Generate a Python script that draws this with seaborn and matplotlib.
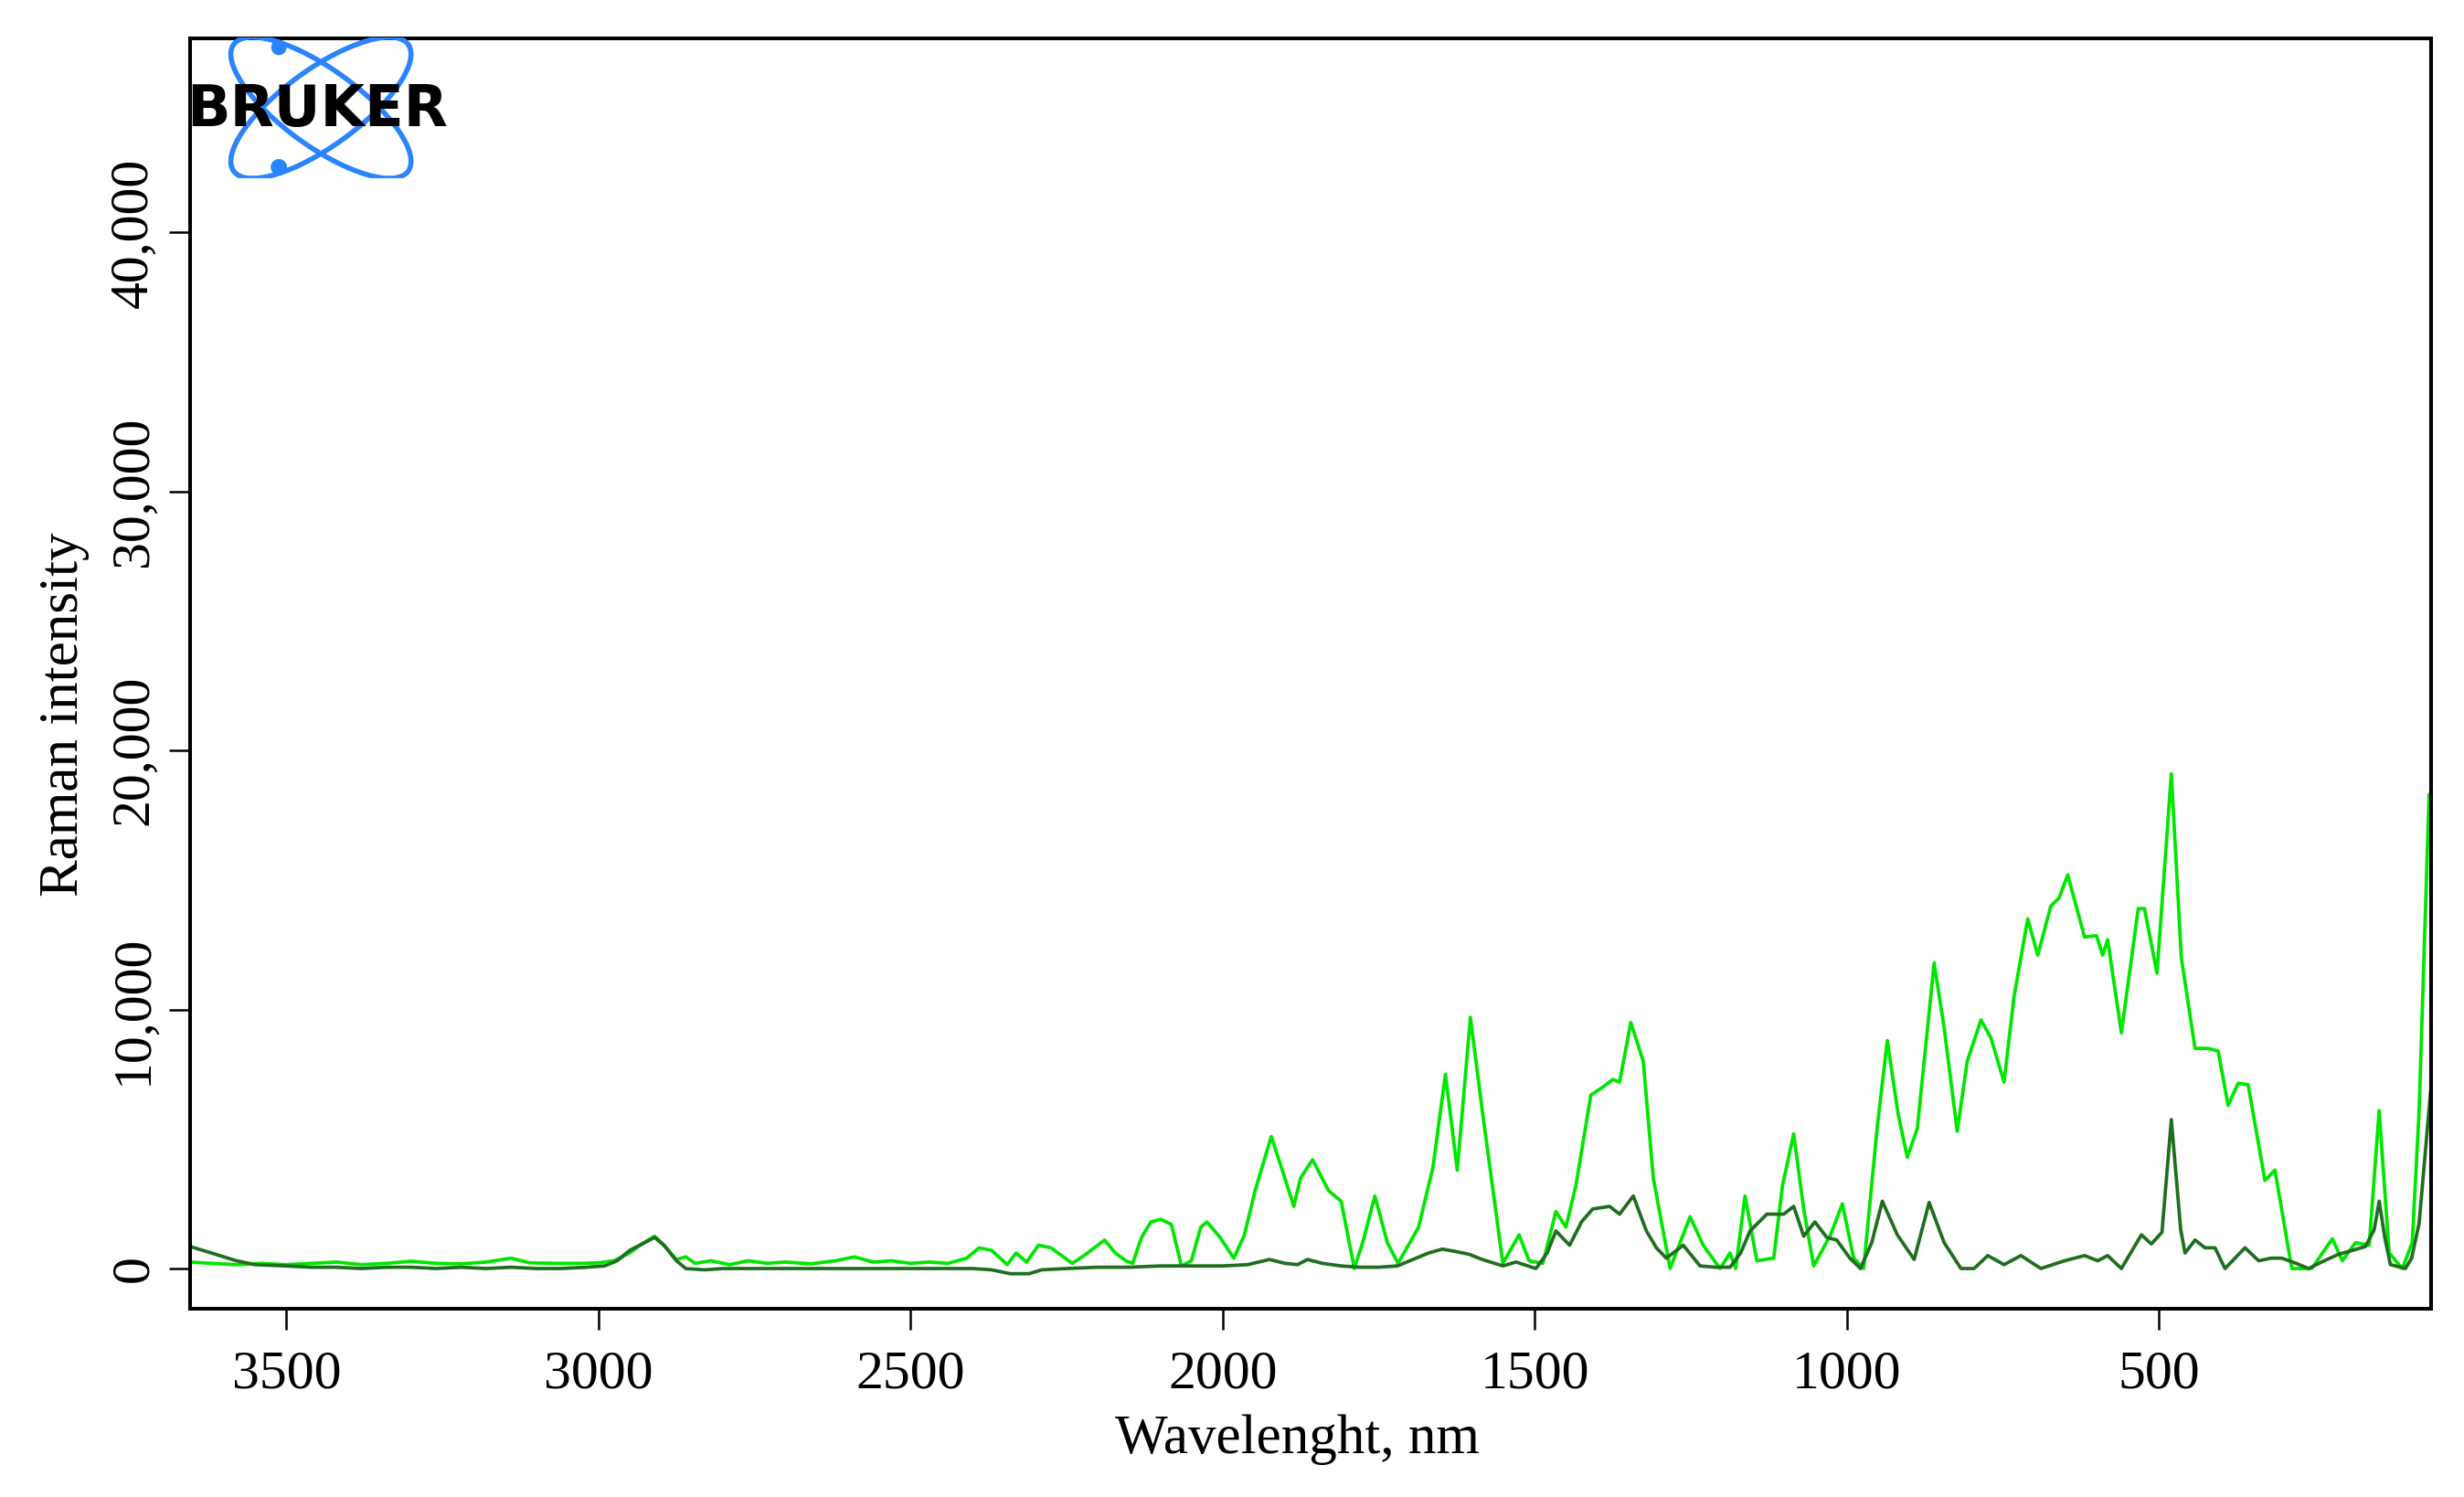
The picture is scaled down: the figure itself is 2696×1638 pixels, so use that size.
import numpy as np
import pandas as pd
import matplotlib
matplotlib.use("Agg")
import matplotlib.pyplot as plt
import seaborn as sns
from matplotlib.patches import Ellipse, Circle
from matplotlib.ticker import StrMethodFormatter

# ---- data (x in nm, intensity in thousands) ----
bright_x = [3654, 3620, 3580, 3540, 3500, 3460, 3420, 3380, 3340, 3300, 3260, 3220, 3180,
            3140, 3110, 3070, 3030, 3000, 2975, 2950, 2930, 2910, 2895, 2875, 2860, 2845,
            2820, 2790, 2760, 2730, 2700, 2660, 2620, 2590, 2560, 2530, 2500, 2470, 2440,
            2410, 2390, 2370, 2345, 2331, 2314, 2295, 2275, 2255, 2241, 2222, 2200, 2189,
            2172, 2155, 2144, 2130, 2115, 2099, 2082, 2066, 2050, 2035, 2025, 2004, 1982,
            1965, 1948, 1922, 1903, 1886, 1875, 1856, 1830, 1810, 1789, 1775, 1756, 1736,
            1719, 1700, 1686, 1663, 1643, 1624, 1603, 1584, 1551, 1525, 1509, 1487, 1466,
            1450, 1434, 1410, 1391, 1375, 1364, 1346, 1326, 1310, 1283, 1251, 1230, 1203,
            1187, 1178, 1163, 1144, 1117, 1103, 1085, 1069, 1053, 1026, 1007, 989, 973,
            951, 935, 918, 903, 887, 860, 844, 823, 807, 785, 769, 748, 732, 710, 694, 673,
            660, 646, 619, 600, 590, 582, 560, 533, 523, 503, 480, 464, 442, 421, 405, 389,
            373, 357, 330, 314, 287, 255, 222, 206, 185, 163, 147, 131, 110, 94, 83, 67]
bright_y = [0.25, 0.2, 0.15, 0.2, 0.15, 0.2, 0.25, 0.15, 0.2, 0.28, 0.2, 0.18, 0.25,
            0.4, 0.22, 0.2, 0.2, 0.22, 0.3, 0.6, 0.95, 1.25, 0.9, 0.35, 0.45, 0.2,
            0.3, 0.15, 0.3, 0.2, 0.25, 0.18, 0.3, 0.45, 0.25, 0.3, 0.2, 0.25, 0.2,
            0.4, 0.8, 0.7, 0.15, 0.6, 0.25, 0.9, 0.8, 0.45, 0.2, 0.5, 0.9, 1.1,
            0.6, 0.3, 0.2, 1.2, 1.8, 1.9, 1.7, 0.1, 0.3, 1.6, 1.8, 1.2, 0.4,
            1.3, 3.0, 5.1, 3.7, 2.4, 3.5, 4.2, 3.0, 2.6, 0.0, 1.05, 2.8, 1.0,
            0.2, 1.0, 1.6, 3.9, 7.5, 3.8, 9.7, 6.1, 0.2, 1.3, 0.3, 0.2, 2.2,
            1.6, 3.2, 6.7, 7.0, 7.3, 7.2, 9.5, 8.0, 3.5, 0.0, 2.0, 0.9, 0.0,
            0.6, 0.0, 2.8, 0.3, 0.4, 3.2, 5.2, 2.3, 0.1, 1.3, 2.5, 0.4, 0.0,
            5.5, 8.8, 6.0, 4.3, 5.4, 11.8, 9.3, 5.3, 8.0, 9.6, 8.9, 7.2, 10.5, 13.5, 12.1, 14.0,
            14.3, 15.2, 12.8, 12.85, 12.1, 12.7, 9.1, 13.9, 13.9, 11.4, 19.1, 12.0, 8.5, 8.5, 8.4, 6.3,
            7.15, 7.1, 3.4, 3.8, 0.0, 0.0, 1.15, 0.3, 1.0, 0.9, 6.1, 0.6, 0.0, 1.0, 6.1, 18.3]

dark_x = [3654, 3620, 3580, 3550, 3500, 3460, 3420, 3380, 3340, 3300, 3260, 3220, 3180,
          3140, 3100, 3060, 3020, 2990, 2970, 2950, 2930, 2910, 2895, 2875, 2860, 2830,
          2800, 2750, 2700, 2650, 2600, 2550, 2500, 2450, 2400, 2370, 2340, 2310, 2290,
          2250, 2200, 2150, 2100, 2050, 2000, 1960, 1925, 1900, 1880, 1864, 1840, 1810,
          1780, 1750, 1720, 1690, 1670, 1648, 1625, 1605, 1584, 1551, 1530, 1498, 1480,
          1466, 1444, 1425, 1407, 1380, 1364, 1342, 1321, 1305, 1289, 1262, 1235, 1210,
          1187, 1170, 1155, 1128, 1101, 1085, 1069, 1051, 1032, 1016, 995, 978, 960, 943,
          919, 892, 868, 844, 817, 796, 774, 748, 721, 689, 651, 619, 598, 582, 560, 528,
          512, 495, 480, 465, 458, 442, 426, 410, 394, 362, 340, 320, 303, 280, 260, 235,
          212, 190, 169, 155, 147, 138, 129, 105, 95, 83, 73, 64]
dark_y = [0.85, 0.6, 0.3, 0.15, 0.1, 0.05, 0.05, 0.0, 0.05, 0.05, 0.0, 0.05, 0.0,
          0.05, 0.0, 0.0, 0.05, 0.1, 0.3, 0.7, 0.95, 1.2, 0.9, 0.3, 0.0, -0.05,
          0.0, 0.0, 0.0, 0.0, 0.0, 0.0, 0.0, 0.0, 0.0, -0.05, -0.2, -0.2, -0.05,
          0.0, 0.05, 0.05, 0.1, 0.1, 0.1, 0.15, 0.35, 0.2, 0.15, 0.35, 0.2, 0.1,
          0.05, 0.05, 0.1, 0.4, 0.6, 0.75, 0.65, 0.55, 0.35, 0.1, 0.25, 0.0, 0.6,
          1.45, 0.9, 1.8, 2.3, 2.4, 2.1, 2.8, 1.45, 0.8, 0.4, 0.9, 0.1, 0.05,
          0.05, 0.6, 1.45, 2.1, 2.1, 2.4, 1.25, 1.8, 1.2, 1.1, 0.4, 0.0, 1.0, 2.6,
          1.3, 0.35, 2.55, 1.0, 0.0, 0.0, 0.5, 0.15, 0.5, 0.0, 0.3, 0.5, 0.3, 0.5, 0.0, 1.3,
          0.95, 1.4, 5.75, 1.5, 0.6, 1.1, 0.8, 0.8, 0.0, 0.8, 0.3, 0.4, 0.4, 0.2, 0.0, 0.3,
          0.55, 0.7, 0.85, 1.5, 2.6, 1.2, 0.15, 0.0, 0.4, 1.75, 4.5, 7.0]

x_ticks = [3500, 3000, 2500, 2000, 1500, 1000, 500]
y_ticks = [0, 10000, 20000, 30000, 40000]

sns.set_theme(style="ticks")
plt.rcParams["font.family"] = ["Liberation Serif", "DejaVu Serif"]

bright = pd.DataFrame({"wl": bright_x, "I": np.array(bright_y) * 1000})
dark = pd.DataFrame({"wl": dark_x, "I": np.array(dark_y) * 1000})

fig = plt.figure(figsize=(13.48, 8.19), dpi=200)
ax = fig.add_axes([0.0772, 0.1258, 0.9094, 0.8486])

sns.lineplot(data=bright, x="wl", y="I", ax=ax, color="#00e600", lw=1.35,
             estimator=None, sort=False)
sns.lineplot(data=dark, x="wl", y="I", ax=ax, color="#1f6e1f", lw=1.35,
             estimator=None, sort=False)

ax.set_xlim(3654, 64)
ax.set_ylim(-1550, 47500)
ax.set_xticks(x_ticks)
ax.set_yticks(y_ticks)
ax.yaxis.set_major_formatter(StrMethodFormatter("{x:,.0f}"))
ax.tick_params(axis="both", direction="out", length=8.3, width=0.9,
               labelsize=21.5, color="black", labelcolor="black")
ax.tick_params(axis="x", pad=8)
ax.tick_params(axis="y", pad=4)
for lab in ax.get_yticklabels():
    lab.set_rotation(90)
    lab.set_va("center")
for s in ax.spines.values():
    s.set_linewidth(1.45)
    s.set_color("black")

ax.set_xlabel("Wavelenght, nm", fontsize=22, color="black")
ax.set_ylabel("Raman intensity", fontsize=22, color="black")
ax.xaxis.set_label_coords(0.494, -0.083)
ax.yaxis.set_label_coords(-0.045, 0.468)

# ---- BRUKER logo, drawn in pixel-like units ----
lax = fig.add_axes([0.0772, 0.881, 0.1046, 0.094])
lax.set_xlim(208, 490)
lax.set_ylim(195, 41)
lax.axis("off")
blue = "#2a84ff"
for ang in (36.0, -36.0):
    lax.add_patch(Ellipse((351, 118), 236, 84, angle=ang, fill=False,
                          edgecolor=blue, lw=2.0))
lax.add_patch(Circle((305, 52), 7, color=blue))
lax.add_patch(Circle((305, 183), 7.5, color=blue))
lax.text(347, 121, "BRUKER", ha="center", va="center", fontsize=22.5,
         fontweight="heavy", family="DejaVu Sans", color="black")

fig.savefig("out.png", dpi=200)
